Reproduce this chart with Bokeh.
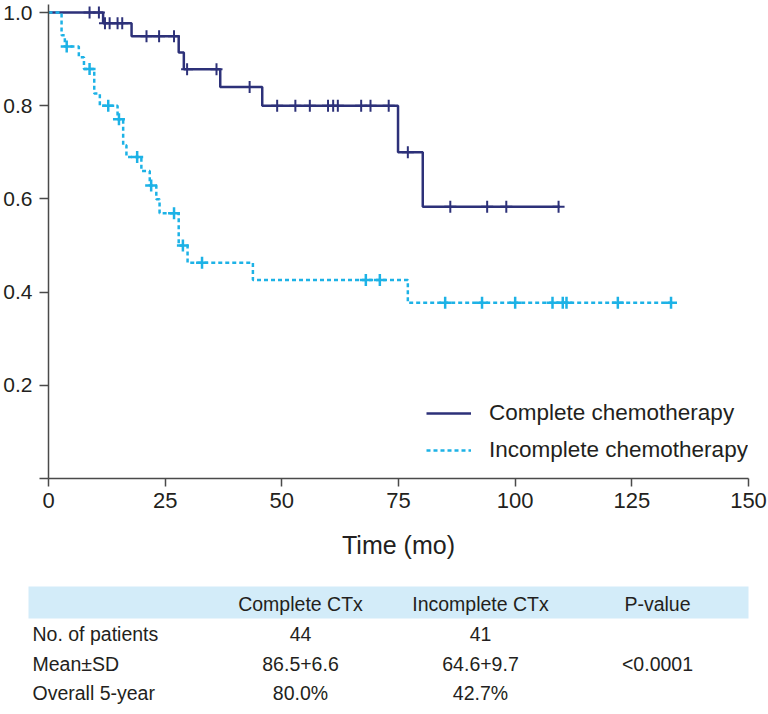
from bokeh.plotting import figure
from bokeh.models import Range1d, Legend, LegendItem, FixedTicker, CustomJSTickFormatter
from bokeh.layouts import column
from bokeh.core.properties import value
from bokeh.embed import file_html
from bokeh.resources import INLINE

# ---------------- data ----------------
comp_time = [0, 11.7, 17.8, 27.9, 29.0, 36.8, 45.8, 74.9, 80.2]
comp_surv = [1.0, 0.977, 0.949, 0.914, 0.878, 0.840, 0.800, 0.700, 0.583]
comp_end = 109.6
comp_censor = [8.8, 10.8, 12.1, 13.1, 14.8, 15.8, 21.0, 23.7, 26.9, 29.7, 36.0,
               43.1, 49.0, 52.9, 56.0, 59.9, 61.0, 62.0, 67.0, 69.0, 72.9, 77.0,
               86.1, 94.0, 98.1, 109.3]

inc_time = [0, 2.8, 3.5, 6.5, 7.6, 9.8, 11.0, 14.8, 16.0, 16.7, 19.9, 21.7,
            23.1, 23.8, 27.9, 29.8, 43.8, 77.0]
inc_surv = [1.0, 0.951, 0.927, 0.904, 0.879, 0.826, 0.800, 0.771, 0.715, 0.690,
            0.660, 0.629, 0.599, 0.569, 0.500, 0.463, 0.426, 0.377]
inc_end = 134.2
inc_censor = [3.9, 8.8, 12.8, 15.1, 19.0, 22.0, 26.9, 28.8, 32.9, 68.0, 71.0,
              85.0, 92.9, 100.0, 108.0, 110.2, 111.0, 122.0, 133.4]

x_ticks = [0, 25, 50, 75, 100, 125, 150]
y_ticks = [0, 0.2, 0.4, 0.6, 0.8, 1.0]

series_labels = ["Complete chemotherapy", "Incomplete chemotherapy"]

col_headers = ["Complete CTx", "Incomplete CTx", "P-value"]
row_labels = ["No. of patients", "Mean\u00b1SD", "Overall 5-year"]
complete_vals = ["44", "86.5+6.6", "80.0%"]
incomplete_vals = ["41", "64.6+9.7", "42.7%"]
p_vals = ["", "<0.0001", ""]

NAVY = "#2d3179"
CYAN = "#1db2e6"
TXT = "#231f20"
AX = "#4a4a4a"
FONT = "Liberation Sans"


def step_xy(times, surv, end):
    return list(times) + [end], list(surv) + [surv[-1]]


def censor_y(times, surv, cens):
    out = []
    for c in cens:
        s = surv[0]
        for t, v in zip(times, surv):
            if t <= c:
                s = v
        out.append(s)
    return out


# ---------------- KM plot ----------------
p = figure(width=768, height=562, output_backend="svg", toolbar_location=None,
           x_range=Range1d(0, 150), y_range=Range1d(0, 474 / 466),
           min_border_left=47, min_border_right=20, min_border_top=4,
           min_border_bottom=84)
p.frame_align = False
p.grid.visible = False
p.outline_line_color = None

cx, cy = step_xy(comp_time, comp_surv, comp_end)
ix, iy = step_xy(inc_time, inc_surv, inc_end)

r_comp = p.step(cx, cy, mode="after", line_color=NAVY, line_width=2.5)
r_inc = p.step(ix, iy, mode="after", line_color=CYAN, line_width=2.5,
               line_dash="4 3")
p.scatter(comp_censor, censor_y(comp_time, comp_surv, comp_censor),
          marker="cross", size=12, line_color=NAVY, line_width=2)
p.scatter(inc_censor, censor_y(inc_time, inc_surv, inc_censor),
          marker="cross", size=12, line_color=CYAN, line_width=2.5)

for ax in (p.xaxis[0], p.yaxis[0]):
    ax.axis_line_color = AX
    ax.axis_line_width = 1.5
    ax.major_tick_line_color = AX
    ax.major_tick_line_width = 1.5
    ax.major_tick_in = 0
    ax.minor_tick_line_color = None
    ax.major_label_text_color = TXT
    ax.major_label_text_font = FONT

p.xaxis.ticker = FixedTicker(ticks=x_ticks)
p.yaxis.ticker = FixedTicker(ticks=y_ticks)
p.yaxis.formatter = CustomJSTickFormatter(
    code="return tick == 0 ? '' : tick.toFixed(1);")
p.xaxis.major_tick_out = 8
p.yaxis.major_tick_out = 9
p.xaxis.major_label_standoff = 6
p.yaxis.major_label_standoff = 7
p.xaxis.major_label_text_font_size = "22px"
p.yaxis.major_label_text_font_size = "21px"
p.xaxis.axis_label = "Time (mo)"
p.xaxis.axis_label_text_font = FONT
p.xaxis.axis_label_text_font_size = "25px"
p.xaxis.axis_label_text_font_style = "normal"
p.xaxis.axis_label_text_color = TXT
p.xaxis.axis_label_standoff = 20

legend = Legend(items=[LegendItem(label=series_labels[0], renderers=[r_comp]),
                       LegendItem(label=series_labels[1], renderers=[r_inc])],
                location=(378, 15.5), margin=0, padding=0,
                glyph_width=45, glyph_height=24, label_height=24,
                spacing=11, label_standoff=18,
                border_line_color=None, background_fill_alpha=0,
                label_text_font=FONT, label_text_font_size="22.5px",
                label_text_color=TXT)
p.add_layout(legend)

# ---------------- table ----------------
t = figure(width=768, height=152, output_backend="svg", toolbar_location=None,
           x_range=Range1d(0, 768), y_range=Range1d(152, 0),
           min_border=0, x_axis_type=None, y_axis_type=None)
t.frame_align = False
t.grid.visible = False
t.outline_line_color = None

t.quad(left=[28], right=[748], top=[24], bottom=[56], fill_color="#d3ecf9",
       line_color=None)

col_x = [300, 480, 657]
row_y = [71, 101, 130]
header_y = 41

t.text(x=col_x, y=[header_y] * 3, text=col_headers, text_align="center",
       text_baseline="middle", text_font=value(FONT), text_font_size="19.5px",
       text_color=TXT)
t.text(x=[32] * 3, y=row_y, text=row_labels, text_align="left",
       text_baseline="middle", text_font=value(FONT), text_font_size="19.5px",
       text_color=TXT)
for cx_, vals in zip(col_x, [complete_vals, incomplete_vals, p_vals]):
    t.text(x=[cx_] * 3, y=row_y, text=vals, text_align="center",
           text_baseline="middle", text_font=value(FONT),
           text_font_size="19.5px", text_color=TXT)

layout = column(p, t, spacing=0)
open("out.html", "w").write(file_html(layout, INLINE))
